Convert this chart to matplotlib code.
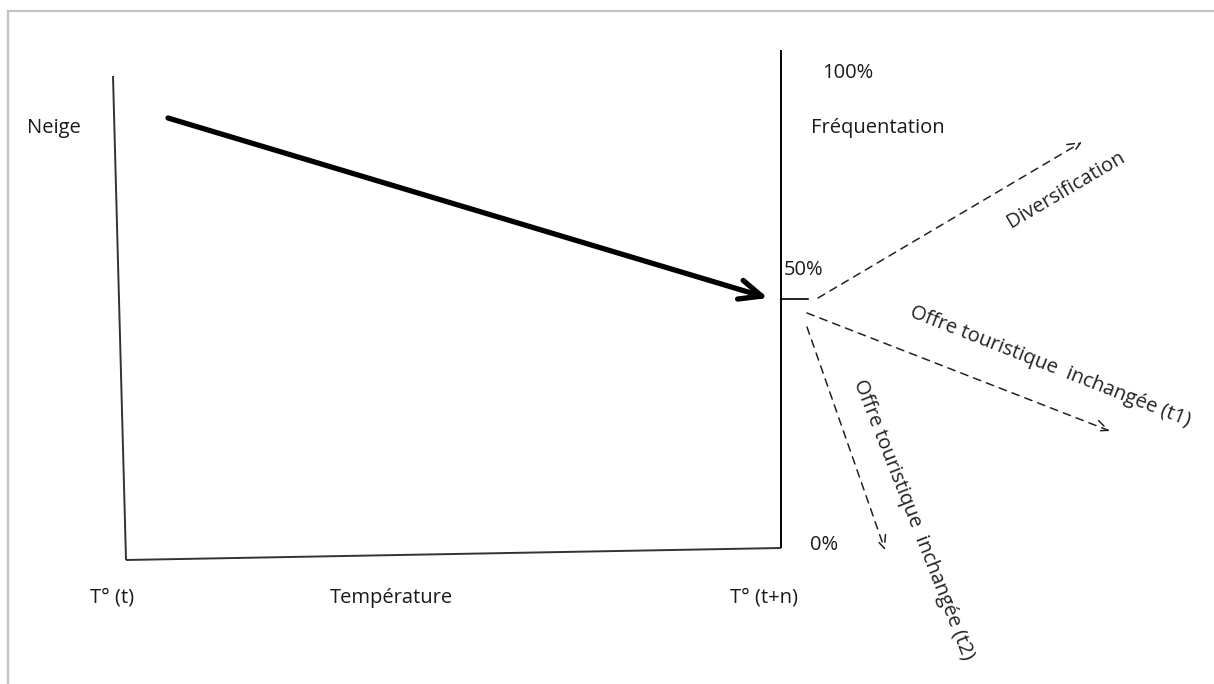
import matplotlib
matplotlib.use("Agg")
import matplotlib.pyplot as plt
from matplotlib.lines import Line2D

# ---- diagram data (pixel space of the 1214x684 canvas) ----
W, H = 1214, 684
axis_left_x = [113, 126]
axis_left_y = [76, 560]
axis_bottom_x = [126, 781]
axis_bottom_y = [560, 548]
axis_right_x = [781, 781]
axis_right_y = [50, 548]
tick50_x = [781, 808]
tick50_y = [299, 299]

trend_start = (168, 118)
trend_end = (768, 298)

scenario_names = ["Diversification", "Offre touristique  inchangée (t1)", "Offre touristique  inchangée (t2)"]
scenario_start = [(818, 298), (807, 313), (807, 327)]
scenario_end = [(1082, 142), (1110, 431), (885, 550)]
scenario_label_pos = [(1066, 190), (1050, 367), (913, 520)]
scenario_label_rot = [30.5, -21.5, -68.5]

labels = ["Neige", "100%", "Fréquentation", "50%", "0%", "T° (t)", "Température", "T° (t+n)"]
label_pos = [(27, 128), (822, 73), (811, 128), (784, 270), (810, 545), (90, 598), (330, 598), (730, 598)]

FONT = ["Open Sans", "DejaVu Sans"]
FS = 14.5

fig = plt.figure(figsize=(W / 100, H / 100), dpi=100)
ax = fig.add_axes([0, 0, 1, 1])
ax.set_xlim(0, W)
ax.set_ylim(H, 0)
ax.axis("off")

# frame (screenshot border)
ax.add_line(Line2D([8, W], [11, 11], color="#c3c3c3", lw=1.6))
ax.add_line(Line2D([8, 8], [11, H], color="#c3c3c3", lw=1.6))

# axes
ax.plot(axis_left_x, axis_left_y, color="#333333", lw=1.4, solid_capstyle="butt")
ax.plot(axis_bottom_x, axis_bottom_y, color="#333333", lw=1.4, solid_capstyle="butt")
ax.plot(axis_right_x, axis_right_y, color="black", lw=1.4, solid_capstyle="butt")
ax.plot(tick50_x, tick50_y, color="black", lw=1.2)

# main trend arrow
ax.annotate("", xy=trend_end, xytext=trend_start,
            arrowprops=dict(arrowstyle="->,head_length=1.6,head_width=0.7",
                            lw=3.8, color="black", shrinkA=0, shrinkB=0))

# scenario arrows
for s, e in zip(scenario_start, scenario_end):
    ax.annotate("", xy=e, xytext=s,
                arrowprops=dict(arrowstyle="->,head_length=0.9,head_width=0.4",
                                lw=1.1, color="#222222", linestyle=(0, (5, 4)),
                                shrinkA=0, shrinkB=0))

for name, (x, y), r in zip(scenario_names, scenario_label_pos, scenario_label_rot):
    ax.text(x, y, name, rotation=r, rotation_mode="anchor", ha="center", va="center",
            fontsize=FS, family=FONT, color="#222222")

for t, (x, y) in zip(labels, label_pos):
    ax.text(x, y, t, ha="left", va="center", fontsize=FS, family=FONT, color="#1a1a1a")

fig.savefig("out.png", dpi=100)
